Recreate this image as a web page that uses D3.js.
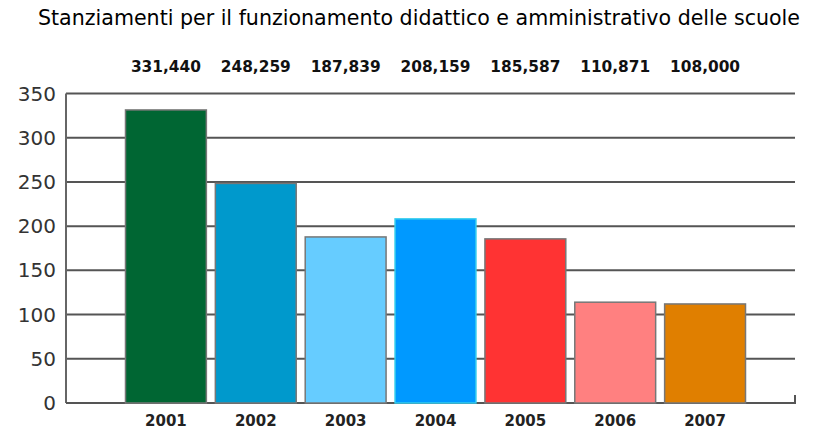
<!DOCTYPE html>
<html>
<head>
<meta charset="utf-8">
<script src="https://cdn.jsdelivr.net/npm/d3@7"></script>
<style>
  body { margin: 0; background: #fff; }
  text { font-family: "DejaVu Sans", Verdana, sans-serif; }
</style>
</head>
<body>
<div id="canvas"></div>
<script>
const years = ['2001', '2002', '2003', '2004', '2005', '2006', '2007'];
// bar heights as drawn (thousands)
const heights = [331.4, 248.3, 187.8, 208.2, 185.6, 114, 112];
const valueLabels = ['331,440', '248,259', '187,839', '208,159', '185,587', '110,871', '108,000'];
const barColors = ['#006633', '#0099cc', '#66ccff', '#0099ff', '#ff3333', '#ff8080', '#e07f00'];
const yTicks = [0, 50, 100, 150, 200, 250, 300, 350];
const title = 'Stanziamenti per il funzionamento didattico e amministrativo delle scuole';

const W = 821, H = 430;
const plotLeft = 66, plotRight = 795, plotTop = 93.5, plotBottom = 403;

let svg = d3.select('#canvas').append('svg')
    .attr('width', W)
    .attr('height', H)

let x = d3.scaleBand().domain(years).range([121, 750]).paddingInner(0.1).paddingOuter(0.05)
let y = d3.scaleLinear().domain([0, 350]).range([plotBottom, plotTop])

svg.append('text')
    .text(title)
    .attr('x', 38).attr('y', 25)
    .attr('font-family', '"DejaVu Sans Condensed", "DejaVu Sans", sans-serif')
    .attr('font-size', 21)
    .attr('textLength', 762)
    .attr('lengthAdjust', 'spacingAndGlyphs')
    .attr('fill', '#000')

// gridlines
svg.selectAll('.grid')
    .data(yTicks.filter(d => d > 0))
    .enter().append('line')
    .attr('x1', plotLeft).attr('x2', plotRight)
    .attr('y1', d => y(d)).attr('y2', d => y(d))
    .attr('stroke', '#555')
    .attr('stroke-width', 2)

// y axis labels
svg.selectAll('.ylab')
    .data(yTicks)
    .enter().append('text')
    .text(d => d)
    .attr('x', 56)
    .attr('y', d => y(d) + 7)
    .attr('text-anchor', 'end')
    .attr('font-size', 20)
    .attr('fill', '#333')

// axis lines
svg.append('line')
    .attr('x1', plotLeft).attr('x2', plotLeft)
    .attr('y1', plotTop).attr('y2', plotBottom)
    .attr('stroke', '#666').attr('stroke-width', 2)
svg.append('path')
    .attr('d', `M${plotLeft},${plotBottom}H${plotRight}V${plotBottom - 8}`)
    .attr('fill', 'none')
    .attr('stroke', '#555').attr('stroke-width', 2)

// bars
svg.selectAll('.bar')
    .data(years)
    .enter().append('rect')
    .attr('x', d => x(d))
    .attr('y', (d, i) => y(heights[i]))
    .attr('width', x.bandwidth())
    .attr('height', (d, i) => y(0) - y(heights[i]))
    .attr('fill', (d, i) => barColors[i])
    .attr('stroke', (d, i) => i == 3 ? '#33ccee' : '#777')
    .attr('stroke-width', 1.5)

// values on top
svg.selectAll('.val')
    .data(years)
    .enter().append('text')
    .text((d, i) => valueLabels[i])
    .attr('x', d => x(d) + x.bandwidth() / 2)
    .attr('y', 72)
    .attr('text-anchor', 'middle')
    .attr('font-size', 16)
    .attr('font-weight', 'bold')
    .attr('textLength', 70)
    .attr('lengthAdjust', 'spacingAndGlyphs')
    .attr('fill', '#111')

// x labels
svg.selectAll('.xlab')
    .data(years)
    .enter().append('text')
    .text(d => d)
    .attr('x', d => x(d) + x.bandwidth() / 2)
    .attr('y', 426)
    .attr('text-anchor', 'middle')
    .attr('font-size', 15)
    .attr('font-weight', 'bold')
    .attr('fill', '#222')
</script>
</body>
</html>
